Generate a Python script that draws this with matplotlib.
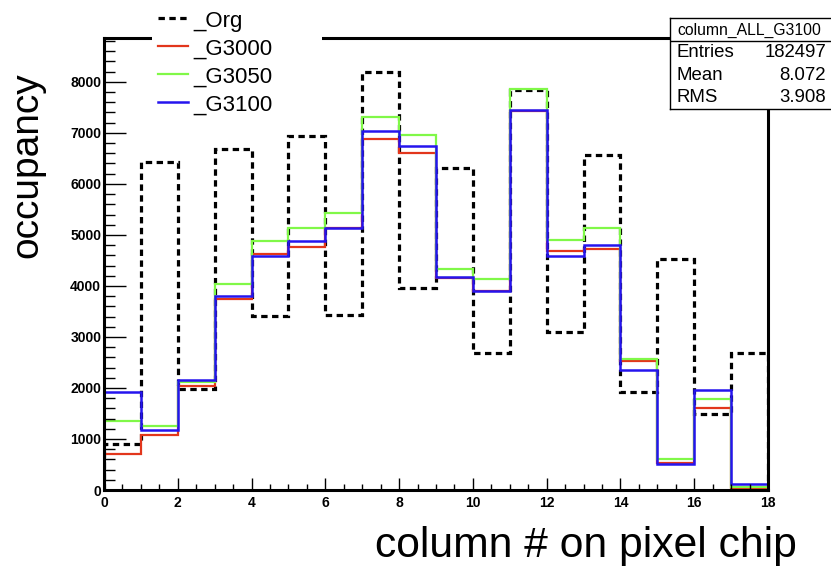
import matplotlib
matplotlib.use('Agg')

import numpy as np
import matplotlib.pyplot as plt
from matplotlib.ticker import MultipleLocator

plt.rcParams['font.family'] = ['Liberation Sans', 'DejaVu Sans']

# bin edges: one bin per pixel column
edges = np.arange(0, 19)

# occupancy per column
org = [900, 6420, 1980, 6690, 3420, 6930, 3440, 8190, 3960, 6320,
       2680, 7850, 3090, 6560, 1920, 4530, 1480, 2690]
g3000 = [710, 1080, 2030, 3750, 4620, 4760, 5130, 6880, 6600, 4150,
         3900, 7430, 4690, 4720, 2530, 530, 1600, 20]
g3050 = [1360, 1260, 2110, 4030, 4880, 5130, 5420, 7310, 6960, 4330,
         4130, 7860, 4900, 5130, 2560, 610, 1790, 60]
g3100 = [1930, 1170, 2160, 3800, 4580, 4880, 5140, 7040, 6740, 4180,
         3900, 7440, 4590, 4810, 2350, 500, 1955, 120]

labels = ['_Org', '_G3000', '_G3050', '_G3100']
stats_title = 'column_ALL_G3100'
stats = [('Entries', '182497'), ('Mean', '8.072'), ('RMS', '3.908')]

# line styles per series
styles = [dict(color='black', lw=2.3, linestyle=(0, (2, 1.4))),
          dict(color='#e2361c', lw=1.6),
          dict(color='#80f848', lw=1.6),
          dict(color='#2514ee', lw=1.8)]

W, H = 831, 566
fig = plt.figure(figsize=(W / 100, H / 100), dpi=100)

def px(x0, y0, x1, y1):
    # pixel box (top-left origin) -> figure fraction rect
    return [x0 / W, 1 - y1 / H, (x1 - x0) / W, (y1 - y0) / H]

ax = fig.add_axes(px(104, 38, 768, 490))

for vals, st in zip([org, g3000, g3050, g3100], styles):
    ax.stairs(vals, edges, **st)

ax.set_xlim(0, 18)
ax.set_ylim(0, 8860)

ax.xaxis.set_major_locator(MultipleLocator(2))
ax.xaxis.set_minor_locator(MultipleLocator(0.5))
ax.yaxis.set_major_locator(MultipleLocator(1000))
ax.yaxis.set_minor_locator(MultipleLocator(200))

ax.tick_params(axis='both', which='both', direction='in', width=1, colors='black')
ax.tick_params(axis='x', which='major', length=8.5, pad=4)
ax.tick_params(axis='x', which='minor', length=4.5)
ax.tick_params(axis='y', which='major', length=16, pad=2)
ax.tick_params(axis='y', which='minor', length=8)
for lab in ax.get_xticklabels() + ax.get_yticklabels():
    lab.set_fontweight('bold')
    lab.set_fontsize(10)

for sp in ax.spines.values():
    sp.set_linewidth(2.2)

# axis titles
fig.text(375 / W, 1 - 557 / H, 'column # on pixel chip', fontsize=30.7,
         ha='left', va='baseline')
fig.text(37 / W, 1 - 258 / H, 'occupancy', fontsize=28, rotation=90,
         rotation_mode='anchor', ha='left', va='baseline')

# legend box, drawn over the top frame line
lg = fig.add_axes(px(152, 0, 322, 118), zorder=5)
lg.set_xlim(152, 322)
lg.set_ylim(118, 0)
lg.set_xticks([])
lg.set_yticks([])
for sp in lg.spines.values():
    sp.set_visible(False)
for i, (lab, st) in enumerate(zip(labels, styles)):
    yy = 18 + 28 * i
    lg.plot([158, 188], [yy, yy], **st)
    lg.text(193, yy + 8.5, lab, fontsize=16, ha='left', va='baseline')

# stats box, top right
sb = fig.add_axes(px(670, 18, 840, 108.5), zorder=5)
sb.set_xlim(670, 840)
sb.set_ylim(108.5, 18)
sb.set_xticks([])
sb.set_yticks([])
for sp in sb.spines.values():
    sp.set_linewidth(1)
sb.axhline(40.5, color='black', lw=1)
sb.text(677, 30, stats_title, fontsize=11.3, va='center', ha='left')
for (k, v), yy in zip(stats, [52.5, 76, 98]):
    sb.text(677, yy, k, fontsize=13.4, va='center', ha='left')
    sb.text(826, yy, v, fontsize=13.4, va='center', ha='right')

fig.savefig('out.png', dpi=100)
